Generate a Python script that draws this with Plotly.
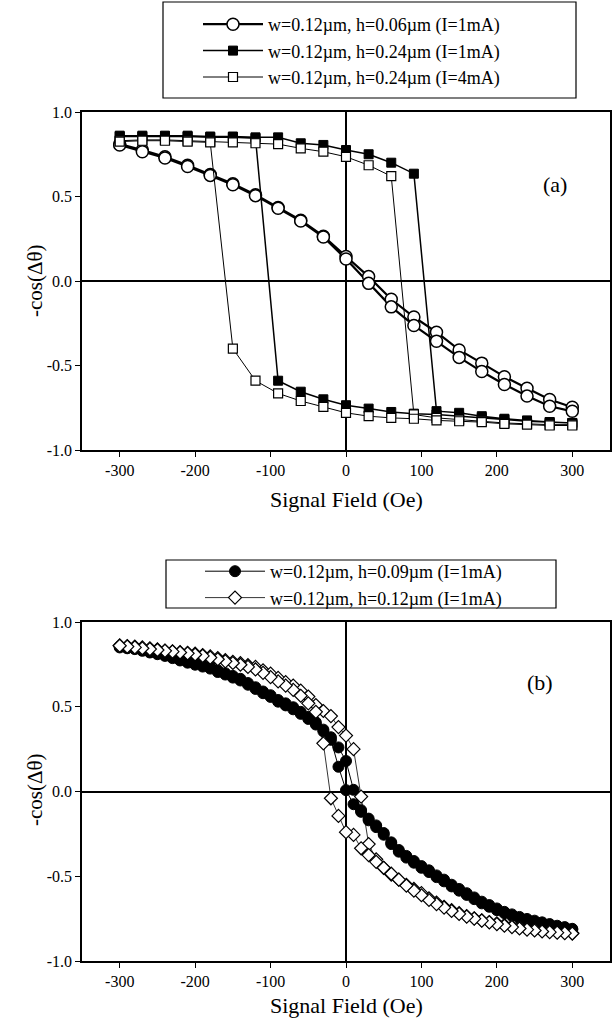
import plotly.graph_objects as go

W, H = 616, 1029
FONT = "Liberation Serif"

# ---------------- data: panel (a) ----------------
a_field = [-300, -270, -240, -210, -180, -150, -120, -90, -60, -30, 0,
           30, 60, 90, 120, 150, 180, 210, 240, 270, 300]
# sweep up (increasing field) and sweep down (listed by increasing field)
circ_up = [0.81, 0.775, 0.735, 0.685, 0.63, 0.575, 0.51, 0.435, 0.36, 0.265, 0.145,
           0.026, -0.108, -0.213, -0.303, -0.408, -0.486, -0.566, -0.635, -0.701, -0.747]
circ_dn = [0.805, 0.765, 0.728, 0.678, 0.625, 0.57, 0.505, 0.43, 0.355, 0.26, 0.13,
           -0.014, -0.153, -0.263, -0.357, -0.452, -0.536, -0.612, -0.681, -0.741, -0.771]
fsq_up = [0.86, 0.86, 0.86, 0.86, 0.855, 0.855, 0.85, 0.85, 0.815, 0.805, 0.775,
          0.75, 0.70, 0.635, -0.77, -0.78, -0.80, -0.815, -0.825, -0.835, -0.84]
fsq_dn = [0.855, 0.855, 0.855, 0.855, 0.85, 0.85, 0.845, -0.59, -0.655, -0.70, -0.735,
          -0.755, -0.775, -0.785, -0.79, -0.80, -0.81, -0.82, -0.83, -0.835, -0.84]
osq_up = [0.83, 0.835, 0.835, 0.83, 0.825, 0.82, 0.815, 0.81, 0.785, 0.765, 0.735,
          0.685, 0.62, -0.79, -0.81, -0.82, -0.83, -0.84, -0.845, -0.85, -0.85]
osq_dn = [0.825, 0.83, 0.83, 0.825, 0.82, -0.40, -0.59, -0.665, -0.71, -0.745, -0.78,
          -0.80, -0.81, -0.815, -0.825, -0.83, -0.835, -0.845, -0.85, -0.855, -0.855]

# ---------------- data: panel (b) ----------------
b_field = list(range(-300, 301, 10))
fc_up = [0.855, 0.85, 0.845, 0.835, 0.825, 0.815, 0.805, 0.792, 0.778, 0.765,
         0.755, 0.745, 0.735, 0.715, 0.698, 0.682, 0.665, 0.64, 0.615, 0.59,
         0.568, 0.54, 0.52, 0.497, 0.47, 0.44, 0.408, 0.365, 0.32, 0.26,
         0.18, 0.01, -0.11, -0.16, -0.20, -0.245, -0.30, -0.345, -0.38, -0.41,
         -0.44, -0.465, -0.495, -0.52, -0.55, -0.575, -0.60, -0.625, -0.65, -0.67,
         -0.69, -0.71, -0.725, -0.74, -0.752, -0.762, -0.772, -0.782, -0.792, -0.80,
         -0.81]
fc_dn = [0.85, 0.845, 0.84, 0.83, 0.82, 0.81, 0.80, 0.787, 0.773, 0.76,
         0.748, 0.737, 0.725, 0.705, 0.69, 0.672, 0.655, 0.63, 0.605, 0.58,
         0.558, 0.53, 0.508, 0.485, 0.458, 0.428, 0.395, 0.355, 0.305, 0.146,
         0.008, -0.075, -0.12, -0.17, -0.21, -0.255, -0.31, -0.355, -0.39, -0.42,
         -0.45, -0.475, -0.505, -0.53, -0.56, -0.585, -0.61, -0.635, -0.66, -0.68,
         -0.70, -0.718, -0.733, -0.748, -0.76, -0.77, -0.78, -0.79, -0.80, -0.808,
         -0.815]
dm_up = [0.862, 0.858, 0.855, 0.85, 0.845, 0.838, 0.832, 0.827, 0.822, 0.818,
         0.813, 0.805, 0.797, 0.787, 0.775, 0.765, 0.757, 0.745, 0.735, 0.715,
         0.695, 0.67, 0.645, 0.625, 0.595, 0.56, 0.51, 0.475, 0.445, 0.38,
         0.33, 0.25, -0.03, -0.31, -0.40, -0.45, -0.49, -0.52, -0.55, -0.575,
         -0.60, -0.63, -0.655, -0.68, -0.70, -0.718, -0.735, -0.748, -0.76, -0.77,
         -0.778, -0.787, -0.795, -0.803, -0.81, -0.815, -0.82, -0.825, -0.83, -0.833,
         -0.835]
dm_dn = [0.86, 0.855, 0.85, 0.845, 0.84, 0.835, 0.83, 0.825, 0.82, 0.815,
         0.808, 0.80, 0.79, 0.78, 0.768, 0.758, 0.748, 0.735, 0.72, 0.70,
         0.675, 0.65, 0.625, 0.60, 0.565, 0.52, 0.47, 0.284, -0.04, -0.144,
         -0.24, -0.256, -0.335, -0.375, -0.415, -0.45, -0.485, -0.52, -0.555, -0.585,
         -0.612, -0.64, -0.664, -0.685, -0.705, -0.722, -0.738, -0.75, -0.762, -0.772,
         -0.782, -0.792, -0.80, -0.808, -0.815, -0.82, -0.826, -0.83, -0.833, -0.836,
         -0.838]

x_tickvals = [-300, -200, -100, 0, 100, 200, 300]
x_ticktext = ["-300", "-200", "-100", "0", "100", "200", "300"]
y_tickvals = [1.0, 0.5, 0.0, -0.5, -1.0]
y_ticktext = ["1.0", "0.5", "0.0", "-0.5", "-1.0"]

names_a = ["w=0.12\u00b5m, h=0.06\u00b5m (I=1mA)",
           "w=0.12\u00b5m, h=0.24\u00b5m (I=1mA)",
           "w=0.12\u00b5m, h=0.24\u00b5m (I=4mA)"]
names_b = ["w=0.12\u00b5m, h=0.09\u00b5m (I=1mA)",
           "w=0.12\u00b5m, h=0.12\u00b5m (I=1mA)"]


def loop(field, up, dn):
    return list(field) + list(field)[::-1], list(up) + list(dn)[::-1]


fig = go.Figure()

# panel (a)
x, y = loop(a_field, circ_up, circ_dn)
fig.add_trace(go.Scatter(x=x, y=y, mode="lines+markers", name=names_a[0],
                         line=dict(color="black", width=2.2),
                         marker=dict(symbol="circle", size=12, color="white",
                                     line=dict(color="black", width=1.5)),
                         xaxis="x", yaxis="y", legend="legend"))
x, y = loop(a_field, fsq_up, fsq_dn)
fig.add_trace(go.Scatter(x=x, y=y, mode="lines+markers", name=names_a[1],
                         line=dict(color="black", width=1.5),
                         marker=dict(symbol="square", size=9, color="black",
                                     line=dict(color="black", width=1)),
                         xaxis="x", yaxis="y", legend="legend"))
x, y = loop(a_field, osq_up, osq_dn)
fig.add_trace(go.Scatter(x=x, y=y, mode="lines+markers", name=names_a[2],
                         line=dict(color="black", width=1),
                         marker=dict(symbol="square", size=9, color="white",
                                     line=dict(color="black", width=1.2)),
                         xaxis="x", yaxis="y", legend="legend"))

# panel (b)
x, y = loop(b_field, fc_up, fc_dn)
fig.add_trace(go.Scatter(x=x, y=y, mode="lines+markers", name=names_b[0],
                         line=dict(color="black", width=1),
                         marker=dict(symbol="circle", size=11, color="black",
                                     line=dict(color="black", width=1)),
                         xaxis="x2", yaxis="y2", legend="legend2"))
x, y = loop(b_field, dm_up, dm_dn)
fig.add_trace(go.Scatter(x=x, y=y, mode="lines+markers", name=names_b[1],
                         line=dict(color="black", width=0.8),
                         marker=dict(symbol="diamond", size=10, color="white",
                                     line=dict(color="black", width=1.2)),
                         xaxis="x2", yaxis="y2", legend="legend2"))

px = lambda v: v / W
py = lambda v: 1 - v / H

axis_common = dict(showline=True, linecolor="black", linewidth=1.6, mirror=True,
                   ticks="outside", ticklen=5, tickwidth=1.2, tickcolor="black",
                   showgrid=False, zeroline=True, zerolinecolor="black",
                   zerolinewidth=1.5, automargin=False,
                   tickfont=dict(family=FONT, size=16, color="black"))


def ann(text, x, y, size, angle=0):
    return dict(text=text, x=px(x), y=py(y), xref="paper", yref="paper",
                xanchor="center", yanchor="middle", showarrow=False,
                textangle=angle, font=dict(family=FONT, size=size, color="black"))


xdom = [px(82), px(610)]
fig.update_layout(
    width=W, height=H,
    margin=dict(l=0, r=0, t=0, b=0, pad=0, autoexpand=False),
    paper_bgcolor="white", plot_bgcolor="white",
    font=dict(family=FONT, color="black"),
    xaxis=dict(domain=xdom, range=[-350, 350], anchor="y",
               tickvals=x_tickvals, ticktext=x_ticktext, **axis_common),
    yaxis=dict(domain=[py(450), py(112)], range=[-1.0, 1.0], anchor="x",
               tickvals=y_tickvals, ticktext=y_ticktext, **axis_common),
    xaxis2=dict(domain=xdom, range=[-350, 350], anchor="y2",
                tickvals=x_tickvals, ticktext=x_ticktext, **axis_common),
    yaxis2=dict(domain=[py(961), py(622)], range=[-1.0, 1.0], anchor="x2",
                tickvals=y_tickvals, ticktext=y_ticktext, **axis_common),
    legend=dict(x=px(198), y=py(6), xanchor="left", yanchor="top",
                bgcolor="rgba(0,0,0,0)", borderwidth=0, itemwidth=60,
                font=dict(family=FONT, size=18, color="black"),
                tracegroupgap=0),
    legend2=dict(x=px(200), y=py(553), xanchor="left", yanchor="top",
                 bgcolor="rgba(0,0,0,0)", borderwidth=0, itemwidth=60,
                 font=dict(family=FONT, size=18, color="black"),
                 tracegroupgap=0),
    shapes=[
        dict(type="rect", xref="paper", yref="paper",
             x0=px(163), x1=px(576), y0=py(98), y1=py(2),
             line=dict(color="black", width=1.2)),
        dict(type="rect", xref="paper", yref="paper",
             x0=px(166), x1=px(556), y0=py(608), y1=py(560),
             line=dict(color="black", width=1.2)),
    ],
    annotations=[
        ann("Signal Field (Oe)", 346, 500, 22),
        ann("Signal Field (Oe)", 346, 1005, 22),
        ann("-cos(\u0394\u03b8)", 35, 281, 21, -90),
        ann("-cos(\u0394\u03b8)", 35, 790, 21, -90),
        ann("(a)", 555, 185, 22),
        ann("(b)", 540, 682, 22),
    ],
)

fig.write_html(
    "out.html",
    config={"displayModeBar": False},
    post_script=("document.body.style.margin='0';"
                 "document.body.style.overflow='hidden';"
                 "document.documentElement.style.overflow='hidden';"),
)
